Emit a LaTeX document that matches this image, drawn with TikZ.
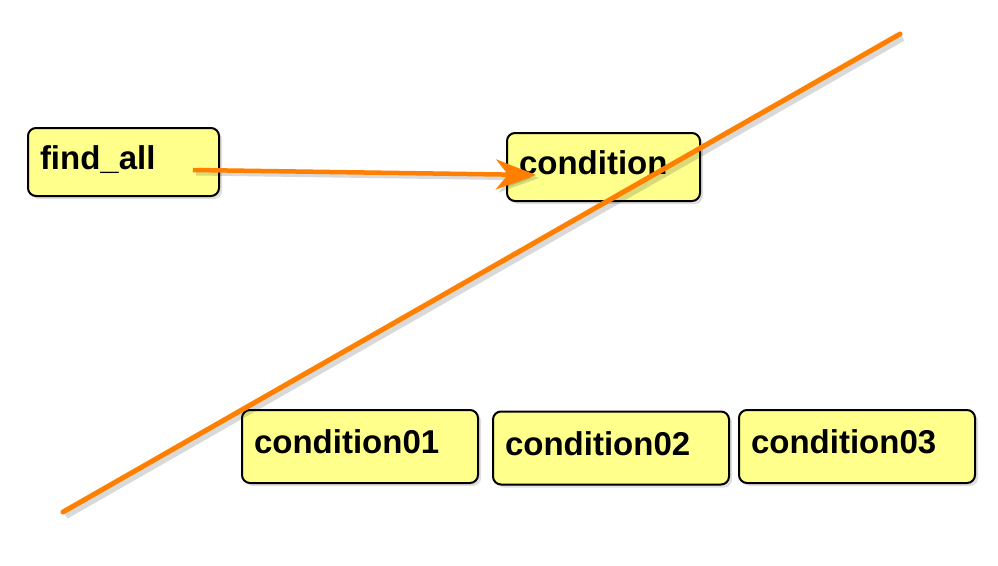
\documentclass[tikz,border=0pt]{standalone}
\usepackage{fontspec}
\setmainfont{Liberation Sans}
\usetikzlibrary{arrows.meta, shadows}
\definecolor{boxyellow}{RGB}{255,255,140}
\definecolor{lineorange}{RGB}{255,128,0}
\tikzstyle{condbox} = [rectangle, rounded corners=8pt, minimum height=68pt, text width=212pt, text depth=9pt, align=left, inner xsep=12pt, draw=black, line width=2pt, fill=boxyellow, font=\fontsize{33}{35}\selectfont\bfseries, drop shadow={shadow xshift=3pt, shadow yshift=-3pt, opacity=0.25}]
\tikzstyle{arrow} = [line width=4.5pt, draw=lineorange, -{Stealth[length=40pt, width=30pt, inset=12pt]}, preaction={draw=black, opacity=0.15, line width=5pt, transform canvas={xshift=3pt, yshift=-3pt}}]
\tikzstyle{strike} = [line width=5pt, draw=lineorange, line cap=round, preaction={draw=black, opacity=0.15, line width=6pt, transform canvas={xshift=3pt, yshift=-4pt}}]

\begin{document}
\begin{tikzpicture}[x=1pt, y=-1pt]
	\useasboundingbox (0,0) rectangle (998,565);

	\node (find) [condbox, text width=167pt] at (123.5,162) {find\_all};
	\node (cond) [condbox, text width=169pt] at (603.5,167) {condition};
	\node (c01) [condbox, minimum height=73pt] at (360,446.5) {condition01};
	\node (c02) [condbox, minimum height=73pt] at (611,448) {condition02};
	\node (c03) [condbox, minimum height=73pt] at (857,446.5) {condition03};

	\coordinate (from) at ([xshift=-27pt, yshift=-8pt]find.east);
	\coordinate (to) at ([xshift=30pt, yshift=-8pt]cond.west);
	\coordinate (low) at (63,512);
	\coordinate (high) at (900,34);

\draw [arrow] (from) -- (to);
\draw [strike] (low) -- (high);

\end{tikzpicture}
\end{document}
